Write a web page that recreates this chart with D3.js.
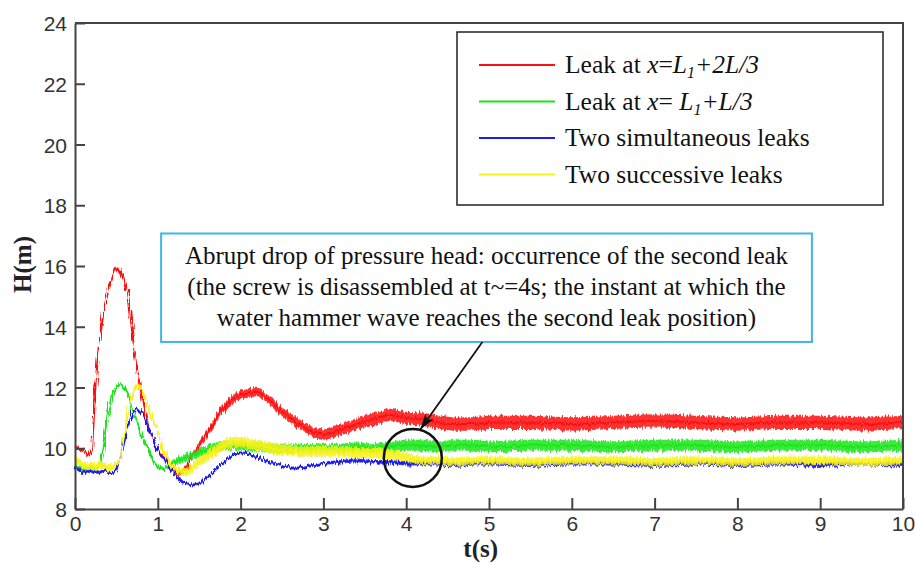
<!DOCTYPE html>
<html>
<head>
<meta charset="utf-8">
<script src="https://cdn.jsdelivr.net/npm/d3@7"></script>
<style>
  html, body { margin: 0; padding: 0; background: #fff; }
  svg { display: block; }
  .axis text { font-family: "Liberation Sans", Arial, sans-serif; font-size: 21px; fill: #333; }
  .axis path, .axis line { stroke: #444; stroke-width: 2; }
</style>
</head>
<body>
<svg id="chart" width="915" height="563"></svg>
<script>
// time samples (s)
const times = [0,0.05,0.1,0.15,0.2,0.25,0.3,0.35,0.4,0.45,
  0.5,0.55,0.6,0.65,0.7,0.75,0.8,0.85,0.9,0.95,
  1.0,1.05,1.1,1.15,1.2,1.25,1.3,1.35,1.4,1.45,
  1.5,1.6,1.7,1.8,1.9,2.0,2.1,2.2,2.3,2.4,
  2.5,2.6,2.7,2.8,2.9,3.0,3.2,3.4,3.6,3.8,
  4.0,4.2,4.4,4.6,4.8,5.0,5.5,6.0,6.5,7.0,
  7.5,8.0,8.5,9.0,9.5,10.0];

// pressure head H (m) - centre of each trace
const redH = [10.05,10.0,9.95,9.75,9.9,12.2,13.6,14.5,15.2,15.6,
  15.9,15.8,15.5,14.9,13.6,12.6,11.8,11.1,10.6,10.3,
  10.0,9.8,9.6,9.45,9.3,9.15,9.2,9.4,9.7,9.9,
  10.1,10.5,10.95,11.35,11.6,11.75,11.8,11.85,11.7,11.45,
  11.2,11.0,10.8,10.65,10.5,10.45,10.6,10.8,10.95,11.1,
  11.0,10.95,10.85,10.8,10.8,10.85,10.85,10.8,10.85,10.9,
  10.85,10.8,10.85,10.85,10.8,10.85];
const greenH = [9.4,9.35,9.3,9.35,9.35,9.35,9.45,10.3,11.2,11.75,
  12.0,12.1,11.95,11.7,11.3,10.85,10.45,10.15,9.85,9.55,
  9.35,9.3,9.35,9.45,9.55,9.6,9.65,9.7,9.75,9.8,
  9.85,9.95,10.05,10.1,10.1,10.1,10.05,10.05,10.0,10.0,
  10.0,10.0,10.0,10.0,10.0,10.0,10.0,10.05,10.0,10.05,
  10.1,10.1,10.05,10.1,10.1,10.05,10.1,10.1,10.05,10.1,
  10.1,10.05,10.1,10.1,10.05,10.1];
const blueH = [9.35,9.3,9.2,9.25,9.2,9.25,9.2,9.25,9.2,9.2,
  9.25,9.7,10.25,10.8,11.15,11.3,11.2,10.95,10.6,10.3,
  10.0,9.75,9.55,9.35,9.15,9.0,8.9,8.85,8.8,8.8,
  8.85,9.05,9.3,9.55,9.75,9.85,9.8,9.7,9.6,9.5,
  9.4,9.35,9.35,9.4,9.45,9.5,9.55,9.6,9.55,9.55,
  9.5,9.5,9.5,9.45,9.5,9.5,9.45,9.5,9.5,9.45,
  9.5,9.45,9.5,9.45,9.5,9.45];
const yellowH = [9.65,9.55,9.45,9.4,9.4,9.4,9.45,9.4,9.35,9.4,
  9.45,9.7,10.6,11.3,11.85,12.05,11.95,11.6,11.2,10.85,
  10.5,10.1,9.75,9.5,9.35,9.25,9.2,9.25,9.35,9.45,
  9.55,9.75,9.95,10.1,10.2,10.2,10.15,10.1,10.05,10.0,
  9.95,9.95,9.9,9.9,9.9,9.9,9.9,9.85,9.85,9.8,
  9.7,9.6,9.6,9.55,9.6,9.6,9.55,9.6,9.6,9.55,
  9.6,9.55,9.6,9.6,9.55,9.6];

// half-width of the noise band around each trace (m)
const redNoise = [0.06,0.06,0.06,0.06,0.06,0.06,0.06,0.06,0.06,0.06,
  0.06,0.06,0.06,0.06,0.06,0.06,0.06,0.06,0.06,0.06,
  0.06,0.06,0.06,0.06,0.07,0.08,0.09,0.1,0.1,0.11,
  0.12,0.12,0.13,0.13,0.14,0.14,0.14,0.14,0.15,0.15,
  0.15,0.15,0.16,0.16,0.17,0.17,0.18,0.18,0.2,0.2,
  0.2,0.22,0.22,0.22,0.22,0.22,0.22,0.22,0.22,0.22,
  0.22,0.22,0.22,0.22,0.22,0.22];
const greenNoise = [0.06,0.06,0.06,0.06,0.06,0.06,0.06,0.06,0.06,0.06,
  0.06,0.06,0.06,0.06,0.06,0.06,0.06,0.06,0.06,0.06,
  0.06,0.06,0.07,0.08,0.1,0.11,0.12,0.12,0.13,0.13,
  0.14,0.14,0.15,0.15,0.15,0.15,0.15,0.15,0.15,0.15,
  0.15,0.15,0.15,0.15,0.15,0.15,0.15,0.15,0.15,0.16,
  0.18,0.18,0.18,0.18,0.18,0.18,0.18,0.18,0.18,0.18,
  0.18,0.18,0.18,0.18,0.18,0.18];
const blueNoise = [0.05,0.05,0.05,0.05,0.05,0.05,0.05,0.05,0.05,0.05,
  0.05,0.05,0.05,0.05,0.05,0.05,0.05,0.05,0.05,0.05,
  0.05,0.05,0.05,0.05,0.05,0.05,0.05,0.05,0.05,0.05,
  0.05,0.05,0.05,0.05,0.05,0.05,0.05,0.05,0.05,0.05,
  0.05,0.05,0.05,0.05,0.05,0.05,0.06,0.06,0.06,0.06,
  0.07,0.07,0.07,0.07,0.07,0.07,0.07,0.07,0.07,0.07,
  0.07,0.07,0.07,0.07,0.07,0.07];
const yellowNoise = [0.12,0.12,0.12,0.12,0.12,0.12,0.12,0.12,0.12,0.12,
  0.08,0.08,0.08,0.08,0.08,0.08,0.08,0.08,0.08,0.08,
  0.08,0.08,0.08,0.09,0.1,0.11,0.12,0.13,0.14,0.15,
  0.15,0.16,0.17,0.17,0.17,0.17,0.17,0.17,0.17,0.17,
  0.17,0.17,0.17,0.17,0.17,0.17,0.17,0.17,0.17,0.17,
  0.14,0.13,0.13,0.13,0.13,0.13,0.13,0.13,0.13,0.13,
  0.13,0.13,0.13,0.13,0.13,0.13];

const xTicks = [0,1,2,3,4,5,6,7,8,9,10];
const yTicks = [8,10,12,14,16,18,20,22,24];

const series = [
  { key: 'red', color: '#ff1010', h: redH, n: redNoise },
  { key: 'green', color: '#19e619', h: greenH, n: greenNoise },
  { key: 'blue', color: '#1c1cf0', h: blueH, n: blueNoise },
  { key: 'yellow', color: '#f7f21a', h: yellowH, n: yellowNoise }
];

const svg = d3.select('#chart');
const margin = { top: 23, right: 12, bottom: 54, left: 75 };
const width = 915, height = 563;

const x = d3.scaleLinear().domain([0, 10]).range([margin.left, width - margin.right]);
const y = d3.scaleLinear().domain([8, 24]).range([height - margin.bottom, margin.top]);

// noise look for the traces
const defs = svg.append('defs');
const flt = defs.append('filter').attr('id', 'jitter')
  .attr('x', '-2%').attr('y', '-20%').attr('width', '104%').attr('height', '140%');
flt.append('feTurbulence').attr('type', 'fractalNoise')
  .attr('baseFrequency', '0.6 0.05').attr('numOctaves', 2).attr('seed', 4).attr('result', 'n');
flt.append('feDisplacementMap').attr('in', 'SourceGraphic').attr('in2', 'n')
  .attr('scale', 7).attr('xChannelSelector', 'R').attr('yChannelSelector', 'G');

defs.append('marker').attr('id', 'arrowHead')
  .attr('viewBox', '0 0 16 10').attr('refX', 16).attr('refY', 5)
  .attr('markerWidth', 16).attr('markerHeight', 10)
  .attr('markerUnits', 'userSpaceOnUse').attr('orient', 'auto')
  .append('path').attr('d', 'M0,0 L16,5 L0,10 L4,5 Z').attr('fill', '#111');

// traces
series.forEach(s => {
  const g = svg.append('g').attr('class', 'trace ' + s.key).attr('filter', 'url(#jitter)');
  const band = d3.area()
    .x((d, i) => x(times[i]))
    .y0((d, i) => y(d - s.n[i]))
    .y1((d, i) => y(d + s.n[i]))
    .curve(d3.curveMonotoneX);
  const line = d3.line()
    .x((d, i) => x(times[i]))
    .y(d => y(d))
    .curve(d3.curveMonotoneX);
  g.append('path').datum(s.h).attr('d', band)
    .attr('fill', s.color).attr('fill-opacity', 0.85).attr('stroke', 'none');
  g.append('path').datum(s.h).attr('d', line)
    .attr('fill', 'none').attr('stroke', s.color).attr('stroke-width', 2);
});

// axes
svg.append('g').attr('class', 'axis x-axis')
  .attr('transform', `translate(0,${y(8)})`)
  .call(d3.axisBottom(x).tickValues(xTicks).tickFormat(d3.format('d'))
    .tickSizeInner(-11).tickSizeOuter(0).tickPadding(6));
svg.append('g').attr('class', 'axis y-axis')
  .attr('transform', `translate(${x(0)},0)`)
  .call(d3.axisLeft(y).tickValues(yTicks).tickFormat(d3.format('d'))
    .tickSizeInner(-10).tickSizeOuter(0).tickPadding(8));
svg.selectAll('.y-axis .tick text').attr('dy', '0.36em');
svg.selectAll('.x-axis .tick text').attr('dy', '0.75em');

// top and right frame
svg.append('path')
  .attr('d', `M${x(0)},${y(24)} H${x(10)} V${y(8)}`)
  .attr('fill', 'none').attr('stroke', '#444').attr('stroke-width', 2);

// axis titles
svg.append('text')
  .attr('x', x(4.9)).attr('y', 557)
  .attr('text-anchor', 'middle')
  .style('font-family', '"Liberation Serif", "Times New Roman", serif')
  .style('font-weight', 'bold').style('font-size', '25px').style('fill', '#222')
  .text('t(s)');
svg.append('text')
  .attr('transform', `translate(31,${y(16.05)}) rotate(-90)`)
  .attr('text-anchor', 'middle')
  .style('font-family', '"Liberation Serif", "Times New Roman", serif')
  .style('font-weight', 'bold').style('font-size', '25px').style('fill', '#222')
  .text('H(m)');

// legend
const legendRows = [
  { color: '#ff1010', parts: [['Leak at ', 'n'], ['x', 'i'], ['=', 'n'], ['L', 'i'], ['1', 'sub'], ['+2L/3', 'i']] },
  { color: '#19e619', parts: [['Leak at ', 'n'], ['x', 'i'], ['= ', 'n'], ['L', 'i'], ['1', 'sub'], ['+L/3', 'i']] },
  { color: '#1c1cf0', parts: [['Two simultaneous leaks', 'n']] },
  { color: '#f7f21a', parts: [['Two successive leaks', 'n']] }
];
const legend = svg.append('g').attr('class', 'legend');
legend.append('rect')
  .attr('x', 457).attr('y', 32).attr('width', 426).attr('height', 173)
  .attr('fill', '#fff').attr('stroke', '#222').attr('stroke-width', 1.5);
legendRows.forEach((r, i) => {
  const cy = 65 + i * 36.5;
  legend.append('line')
    .attr('x1', 479).attr('x2', 555).attr('y1', cy).attr('y2', cy)
    .attr('stroke', r.color).attr('stroke-width', 2);
  const t = legend.append('text')
    .attr('x', 565).attr('y', cy + 8)
    .style('font-family', '"Liberation Serif", "Times New Roman", serif')
    .style('font-size', '25.5px').style('fill', '#111');
  let prev = null;
  r.parts.forEach(([str, kind]) => {
    const ts = t.append('tspan').text(str);
    if (kind === 'i') ts.style('font-style', 'italic');
    if (kind === 'sub') ts.style('font-style', 'italic').style('font-size', '16px').attr('dy', 5);
    if (kind !== 'sub' && prev === 'sub') ts.attr('dy', -5);
    prev = kind;
  });
});

// annotation box, arrow and circle
const note = svg.append('g').attr('class', 'note');
note.append('rect')
  .attr('x', x(1.04)).attr('y', y(17.07))
  .attr('width', x(8.9) - x(1.04)).attr('height', y(13.5) - y(17.07))
  .attr('fill', '#fff').attr('stroke', '#3db6e8').attr('stroke-width', 2);
const noteLines = [
  'Abrupt drop of pressure head: occurrence of the second leak',
  '(the screw is disassembled at t~=4s; the instant at which the',
  'water hammer wave reaches the second leak position)'
];
noteLines.forEach((l, i) => {
  note.append('text')
    .attr('x', (x(1.04) + x(8.9)) / 2).attr('y', 264 + i * 31)
    .attr('text-anchor', 'middle')
    .style('font-family', '"Liberation Serif", "Times New Roman", serif')
    .style('font-size', '25px').style('fill', '#111')
    .text(l);
});
note.append('line')
  .attr('x1', x(4.92)).attr('y1', y(13.5))
  .attr('x2', x(4.17)).attr('y2', y(10.62))
  .attr('stroke', '#111').attr('stroke-width', 1.8)
  .attr('marker-end', 'url(#arrowHead)');
note.append('circle')
  .attr('cx', x(4.08)).attr('cy', y(9.68)).attr('r', 29)
  .attr('fill', 'none').attr('stroke', '#111').attr('stroke-width', 2.5);
</script>
</body>
</html>
